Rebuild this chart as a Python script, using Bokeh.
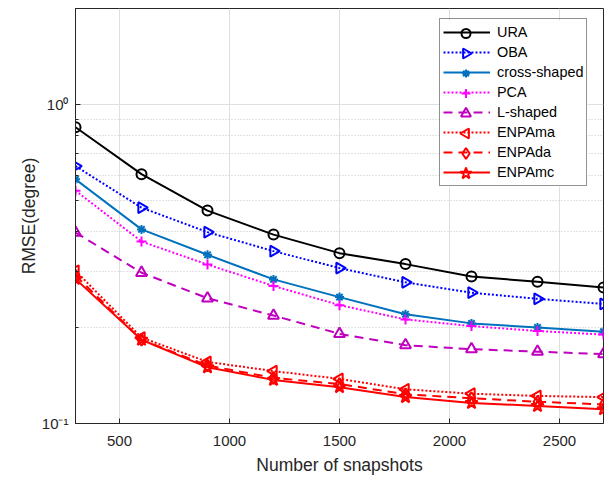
from bokeh.plotting import figure
from bokeh.models import FixedTicker, Legend, Range1d, LinearScale, BoxAnnotation
from bokeh.embed import file_html
from bokeh.resources import INLINE
import math

snapshots = [300, 600, 900, 1200, 1500, 1800, 2100, 2400, 2700]
ura = [0.849, 0.605, 0.465, 0.391, 0.342, 0.316, 0.289, 0.278, 0.267]
oba = [0.641, 0.475, 0.398, 0.347, 0.307, 0.277, 0.257, 0.246, 0.237]
cross_shaped = [0.583, 0.406, 0.338, 0.283, 0.249, 0.220, 0.206, 0.200, 0.194]
pca = [0.537, 0.372, 0.315, 0.270, 0.235, 0.212, 0.202, 0.195, 0.190]
l_shaped = [0.397, 0.297, 0.247, 0.218, 0.191, 0.176, 0.171, 0.168, 0.165]
enpa_ma = [0.301, 0.186, 0.156, 0.146, 0.138, 0.128, 0.124, 0.122, 0.121]
enpa_da = [0.291, 0.183, 0.152, 0.139, 0.133, 0.1235, 0.120, 0.117, 0.1147]
enpa_mc = [0.284, 0.183, 0.150, 0.137, 0.130, 0.121, 0.116, 0.1135, 0.1108]

x_ticks = [500, 1000, 1500, 2000, 2500]
y_major = [0.1, 1]
y_minor = [0.2, 0.3, 0.4, 0.5, 0.6, 0.7, 0.8, 0.9, 2]
y_labels = {0.1: "10\u207b\u00b9", 1: "10\u2070"}

FONT = "Liberation Sans"
TXT = "#262626"

# layout (screen pixels)
W, H = 611, 477
BL, BR, BT, BB = 75, 8, 8, 54
FW, FH = W - BL - BR, H - BT - BB
LG_LEFT, LG_TOP = 364, 12          # legend box offset inside the frame
LG_PAD, LG_ROW, LG_GLYPH_W, LG_STANDOFF = 3, 20, 47, 7
LG_WIDTH = 2 * LG_PAD + LG_GLYPH_W + LG_STANDOFF + 88

p = figure(width=W, height=H, x_range=(300, 2700), y_range=(0.1, 2),
           y_axis_type="log", output_backend="svg", toolbar_location=None,
           min_border_left=BL, min_border_right=BR, min_border_top=BT, min_border_bottom=BB)

p.outline_line_color = TXT
p.outline_line_width = 1
p.background_fill_color = "white"

p.xaxis.ticker = FixedTicker(ticks=x_ticks, minor_ticks=[])
p.yaxis.ticker = FixedTicker(ticks=y_major, minor_ticks=y_minor)
p.yaxis.major_label_overrides = y_labels

for ax in (p.xaxis[0], p.yaxis[0]):
    ax.axis_line_color = TXT
    ax.major_tick_line_color = TXT
    ax.minor_tick_line_color = TXT
    ax.major_tick_in = 5
    ax.major_tick_out = 0
    ax.minor_tick_in = 3
    ax.minor_tick_out = 0
    ax.major_label_text_font = FONT
    ax.major_label_text_font_size = "15px"
    ax.major_label_text_color = TXT
    ax.axis_label_text_font = FONT
    ax.axis_label_text_font_size = "17.5px"
    ax.axis_label_text_font_style = "normal"
    ax.axis_label_text_color = TXT

p.xaxis.axis_label = "Number of snapshots"
p.yaxis.axis_label = "RMSE(degree)"
p.xaxis.major_label_standoff = 12
p.xaxis.axis_label_standoff = 6
p.yaxis.major_label_standoff = 7
p.yaxis.axis_label_standoff = 0

p.xgrid.grid_line_color = "#dfdfdf"
p.ygrid.grid_line_color = "#dfdfdf"
p.ygrid.minor_grid_line_color = "#c4c4c4"
p.ygrid.minor_grid_line_dash = "1 2"

# screen-pixel ranges for the legend background and marker overlay
p.extra_x_ranges = {"lg": Range1d(0, FW)}
p.extra_y_ranges = {"lg": Range1d(0, FH)}
p.extra_x_scales = {"lg": LinearScale()}
p.extra_y_scales = {"lg": LinearScale()}

series = [
    ("URA", ura, "black", "solid", "circle", 0.0, 10),
    ("OBA", oba, "#0000ff", "2 2", "triangle", -math.pi / 2, 11),
    ("cross-shaped", cross_shaped, "#0072bd", "solid", "asterisk", 0.0, 9),
    ("PCA", pca, "#ff00ff", "2 2", "cross", 0.0, 10),
    ("L-shaped", l_shaped, "#bf00bf", "9 6", "triangle", 0.0, 11),
    ("ENPAma", enpa_ma, "#ff0000", "2 2", "triangle", math.pi / 2, 11),
    ("ENPAda", enpa_da, "#ff0000", "9 6", "diamond", 0.0, 12),
    ("ENPAmc", enpa_mc, "#ff0000", "solid", "star", 0.0, 13),
]

lg_height = LG_ROW * len(series) + 2 * LG_PAD

# opaque white legend background (covers grid lines)
bg = BoxAnnotation(left=LG_LEFT, right=LG_LEFT + LG_WIDTH, top=FH - LG_TOP,
                   bottom=FH - LG_TOP - lg_height, x_range_name="lg", y_range_name="lg",
                   fill_color="white", fill_alpha=1, line_color=None, level="underlay")
p.add_layout(bg, "center")

items = []
for i, (name, ys, col, dash, marker, ang, sz) in enumerate(series):
    r1 = p.line(snapshots, ys, line_color=col, line_width=2, line_dash=dash)
    p.scatter(snapshots, ys, marker=marker, size=sz, angle=ang,
              line_color=col, line_width=2, fill_color=None)
    items.append((name, [r1]))
    # marker drawn in the legend row (keeps rotation and size)
    lx = LG_LEFT + LG_PAD + LG_GLYPH_W / 2
    ly = FH - (LG_TOP + LG_PAD + LG_ROW * i + LG_ROW / 2)
    p.scatter([lx], [ly], marker=marker, size=sz - 1, angle=ang, line_color=col,
              line_width=2, fill_color="white", x_range_name="lg",
              y_range_name="lg")

legend = Legend(items=items, location=(LG_LEFT, FH - LG_TOP - lg_height))
legend.padding = LG_PAD
legend.spacing = 0
legend.label_height = LG_ROW
legend.glyph_height = LG_ROW
legend.glyph_width = LG_GLYPH_W
legend.label_standoff = LG_STANDOFF
legend.label_text_font = FONT
legend.label_text_font_size = "14.4px"
legend.label_text_color = "black"
legend.border_line_color = TXT
legend.border_line_width = 1
legend.background_fill_alpha = 0
p.add_layout(legend, "center")

open("out.html", "w").write(file_html(p, INLINE))
